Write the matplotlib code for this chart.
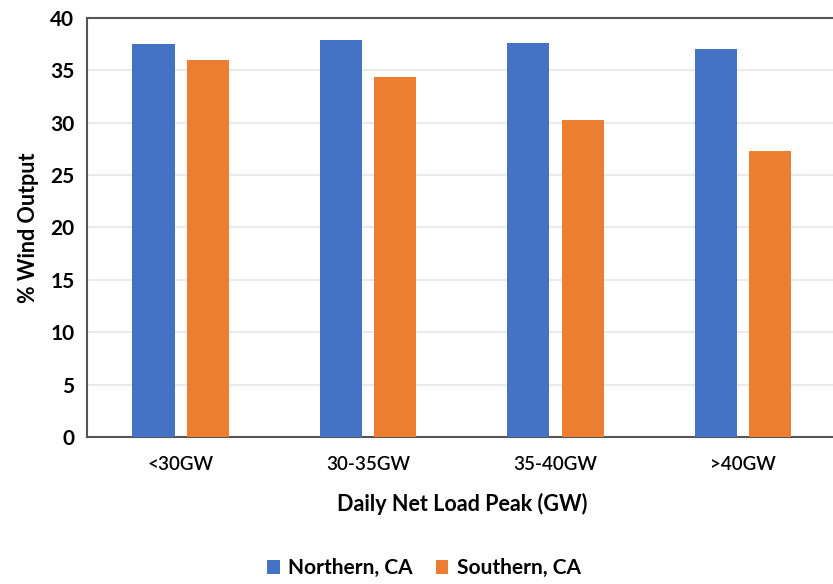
import numpy as np
import matplotlib
matplotlib.use("Agg")
import matplotlib.pyplot as plt

plt.rcParams['font.family'] = ['Lato', 'DejaVu Sans']

categories = ['<30GW', '30-35GW', '35-40GW', '>40GW']
northern = [37.5, 37.9, 37.6, 37.0]
southern = [36.0, 34.4, 30.3, 27.3]

fig = plt.figure(figsize=(8.33, 5.84), dpi=100)
ax = fig.add_axes([0.1044, 0.2517, 0.8998, 0.7175])

x = np.arange(len(categories))
width = 0.225
off = 0.145
ax.bar(x - off, northern, width=width, color='#4472C4', label='Northern, CA', zorder=3)
ax.bar(x + off, southern, width=width, color='#ED7D31', label='Southern, CA', zorder=3)

ax.set_xlim(-0.5, 3.5)
ax.set_ylim(0, 40)
ax.set_yticks(np.arange(0, 41, 5))
ax.set_xticks(x)
ax.set_xticklabels(categories, fontsize=13.5)
ax.tick_params(axis='y', labelsize=15, length=0, pad=9)
ax.tick_params(axis='x', length=0, pad=14)
for lbl in ax.get_yticklabels():
    lbl.set_fontweight('bold')
for lbl in ax.get_xticklabels():
    lbl.set_fontweight('semibold')

ax.grid(axis='y', color='#e6e6e6', linewidth=1.2, zorder=0)
for s in ['left', 'top', 'bottom']:
    ax.spines[s].set_color('#555555')
    ax.spines[s].set_linewidth(1.5)
ax.spines['right'].set_visible(False)

ax.set_ylabel('% Wind Output', fontsize=15.5, fontweight='bold', labelpad=8)
ax.set_xlabel('Daily Net Load Peak (GW)', fontsize=15.5, fontweight='bold', labelpad=14)

leg = fig.legend(loc='center', bbox_to_anchor=(0.509, 0.027), ncol=2, frameon=False,
                 fontsize=15, handlelength=0.6, handleheight=0.6, columnspacing=1.1,
                 handletextpad=0.4)
for t in leg.get_texts():
    t.set_fontweight('bold')

fig.savefig('out.png', dpi=100)
